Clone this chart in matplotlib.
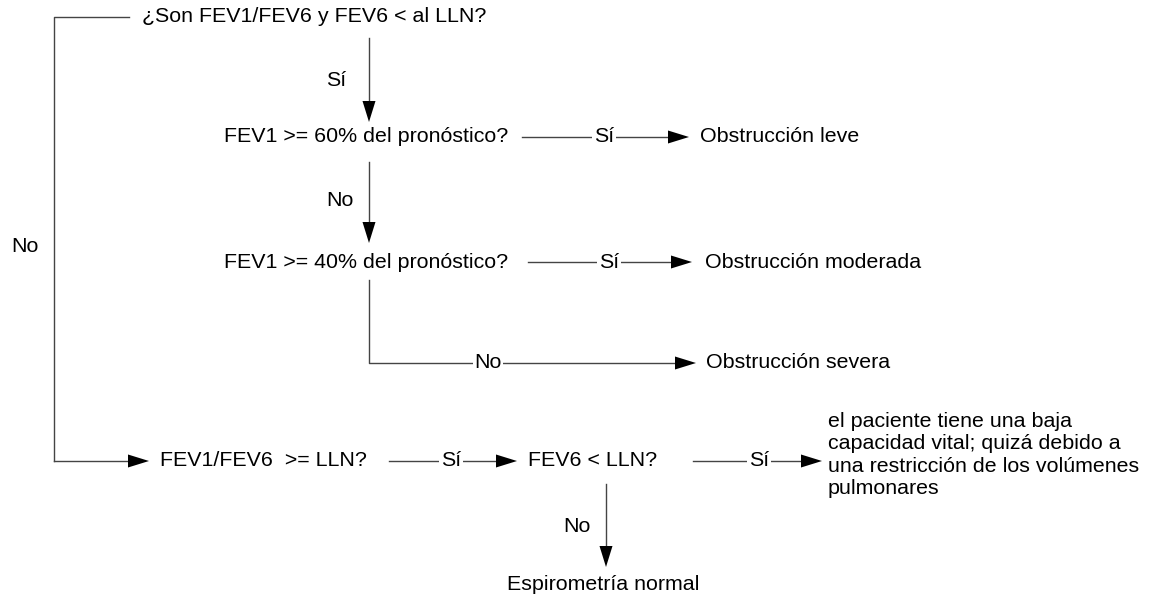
import matplotlib.pyplot as plt
from matplotlib.patches import Polygon

plt.rcParams['font.family'] = ['Liberation Sans', 'DejaVu Sans']

# Textos de los nodos del diagrama
preguntas = ["¿Son FEV1/FEV6 y FEV6 < al LLN?",
             "FEV1 >= 60% del pronóstico?",
             "FEV1 >= 40% del pronóstico?",
             "FEV1/FEV6  >= LLN?",
             "FEV6 < LLN?"]
resultados = ["Obstrucción leve",
              "Obstrucción moderada",
              "Obstrucción severa",
              "el paciente tiene una baja\ncapacidad vital; quizá debido a\nuna restricción de los volúmenes\npulmonares",
              "Espirometría normal"]
etiquetas = ["Sí", "No"]

# Posiciones en píxeles (x, y desde arriba)
pos_preg = [(142, 17), (224, 137), (224, 262), (160, 461), (528, 461)]
pos_res = [(700, 137), (705, 262), (706, 363), (828, 455), (603, 584)]

LINEA = '#444444'
FS = 15.4
HL, HW = 21, 13  # largo y ancho de la punta de flecha

fig = plt.figure(figsize=(11.59, 6.01), dpi=100)
ax = fig.add_axes([0, 0, 1, 1])
ax.set_xlim(0, 1159)
ax.set_ylim(601, 0)
ax.axis('off')


def punta(x, y, dx, dy):
    # triángulo negro con la punta en (x, y), dirección (dx, dy)
    px, py = -dy, dx
    pts = [(x, y),
           (x - dx * HL + px * HW / 2, y - dy * HL + py * HW / 2),
           (x - dx * HL - px * HW / 2, y - dy * HL - py * HW / 2)]
    ax.add_patch(Polygon(pts, closed=True, color='black', lw=0, zorder=3))


def flecha(x0, y0, x1, y1):
    dx = (x1 > x0) - (x1 < x0)
    dy = (y1 > y0) - (y1 < y0)
    ax.plot([x0, x1 - dx * HL], [y0, y1 - dy * HL], color=LINEA, lw=1, zorder=2)
    punta(x1, y1, dx, dy)


def linea(xs, ys):
    ax.plot(xs, ys, color=LINEA, lw=1, zorder=2)


def etiqueta(x, y, t):
    ax.text(x, y, t, ha='center', va='center', fontsize=FS, zorder=4,
            bbox=dict(facecolor='white', edgecolor='none', pad=1.2))


# nodos
for (x, y), t in zip(pos_preg, preguntas):
    ax.text(x, y, t, ha='left', va='center', fontsize=FS)
for i, ((x, y), t) in enumerate(zip(pos_res, resultados)):
    if i == 4:
        ax.text(x, y, t, ha='center', va='center', fontsize=FS)
    elif i == 3:
        ax.text(x, y, t, ha='left', va='center', fontsize=FS, linespacing=1.21)
    else:
        ax.text(x, y, t, ha='left', va='center', fontsize=FS)

# rama "No" de la izquierda
linea([129, 54, 54], [17, 17, 461])
flecha(54, 461, 149, 461)
ax.text(25, 247, etiquetas[1], ha='center', va='center', fontsize=FS)

# columna central
flecha(369, 38, 369, 122)
ax.text(336, 80, etiquetas[0], ha='center', va='center', fontsize=FS)
flecha(369, 162, 369, 243)
ax.text(340, 200, etiquetas[1], ha='center', va='center', fontsize=FS)
linea([369, 369, 480], [280, 363, 363])
flecha(480, 363, 696, 363)
etiqueta(488, 363, etiquetas[1])

# ramas "Sí" horizontales
flecha(522, 137, 689, 137)
etiqueta(604, 137, etiquetas[0])
flecha(528, 262, 692, 262)
etiqueta(609, 262, etiquetas[0])
flecha(389, 461, 517, 461)
etiqueta(451, 461, etiquetas[0])
flecha(693, 461, 822, 461)
etiqueta(759, 461, etiquetas[0])

# rama inferior
flecha(606, 484, 606, 567)
ax.text(577, 527, etiquetas[1], ha='center', va='center', fontsize=FS)

fig.savefig('out.png', dpi=100, facecolor='white')
